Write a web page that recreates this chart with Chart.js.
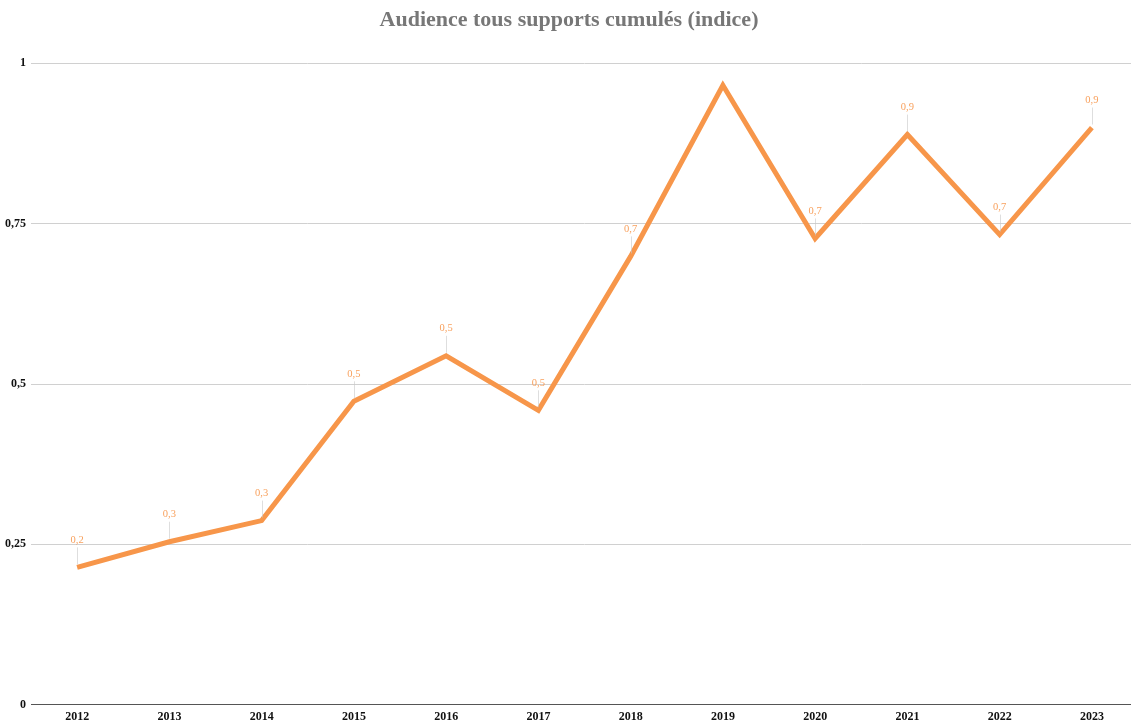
<!DOCTYPE html>
<html>
<head>
<meta charset="utf-8">
<script src="https://cdn.jsdelivr.net/npm/chart.js@4"></script>
<style>
  html, body { margin: 0; padding: 0; background: #fff; overflow: hidden; }
  #wrap { width: 1140px; height: 729px; }
</style>
</head>
<body>
<div id="wrap"><canvas id="graphique"></canvas></div>
<script>
// données
const annees = ["2012", "2013", "2014", "2015", "2016", "2017", "2018", "2019", "2020", "2021", "2022", "2023"];
const audience = [0.214, 0.254, 0.287, 0.473, 0.544, 0.459, 0.699, 0.966, 0.727, 0.889, 0.733, 0.900];
const graduations = [0, 0.25, 0.5, 0.75, 1];

const orange = "#f7964a";

function formatFr(v, dec) {
  const s = dec === undefined ? String(v) : v.toFixed(dec);
  return s.replace(".", ",");
}

// étiquettes au-dessus des points avec petit trait
const etiquettes = {
  id: "etiquettes",
  afterDatasetsDraw(chart) {
    const ctx = chart.ctx;
    const meta = chart.getDatasetMeta(0);
    ctx.save();
    meta.data.forEach((pt, i) => {
      const yTexte = pt.y - 22;
      if (yTexte - 10 < chart.chartArea.top) return; // pas de place
      const x = Math.round(pt.x) + 0.5;
      ctx.strokeStyle = "rgba(200,200,200,0.6)";
      ctx.lineWidth = 1;
      ctx.beginPath();
      ctx.moveTo(x, pt.y - 3);
      ctx.lineTo(x, pt.y - 20);
      ctx.stroke();
      ctx.fillStyle = "rgba(247,150,74,0.9)";
      ctx.font = "10.5px 'Liberation Serif', serif";
      ctx.textAlign = "center";
      ctx.textBaseline = "bottom";
      ctx.fillText(formatFr(audience[i], 1), pt.x, yTexte);
    });
    ctx.restore();
  }
};

new Chart(document.getElementById("graphique"), {
  type: "line",
  data: {
    labels: annees,
    datasets: [{
      data: audience,
      borderColor: orange,
      borderWidth: 5,
      pointRadius: 0,
      tension: 0,
      fill: false
    }]
  },
  options: {
    responsive: true,
    maintainAspectRatio: false,
    animation: false,
    layout: { padding: { left: 0, right: 2, top: 0, bottom: 0 } },
    plugins: {
      legend: { display: false },
      tooltip: { enabled: false },
      title: {
        display: true,
        text: "Audience tous supports cumulés (indice)",
        color: "#777777",
        font: { family: "'Liberation Serif', serif", size: 22, weight: "bold" },
        padding: { top: 7, bottom: 30 }
      }
    },
    scales: {
      x: {
        offset: true,
        grid: { display: false, drawTicks: false },
        border: { color: "#555555", width: 1 },
        ticks: {
          color: "#111111",
          padding: 5,
          maxRotation: 0,
          font: { family: "'Liberation Serif', serif", size: 12, weight: "bold" }
        }
      },
      y: {
        min: 0,
        max: 1,
        afterBuildTicks(axis) {
          axis.ticks = graduations.map(v => ({ value: v }));
        },
        grid: { color: "#d0d0d0", drawTicks: false, lineWidth: 1 },
        border: { display: false },
        ticks: {
          color: "#111111",
          padding: 5,
          font: { family: "'Liberation Serif', serif", size: 12, weight: "bold" },
          callback: v => formatFr(v)
        }
      }
    }
  },
  plugins: [etiquettes]
});
</script>
</body>
</html>
